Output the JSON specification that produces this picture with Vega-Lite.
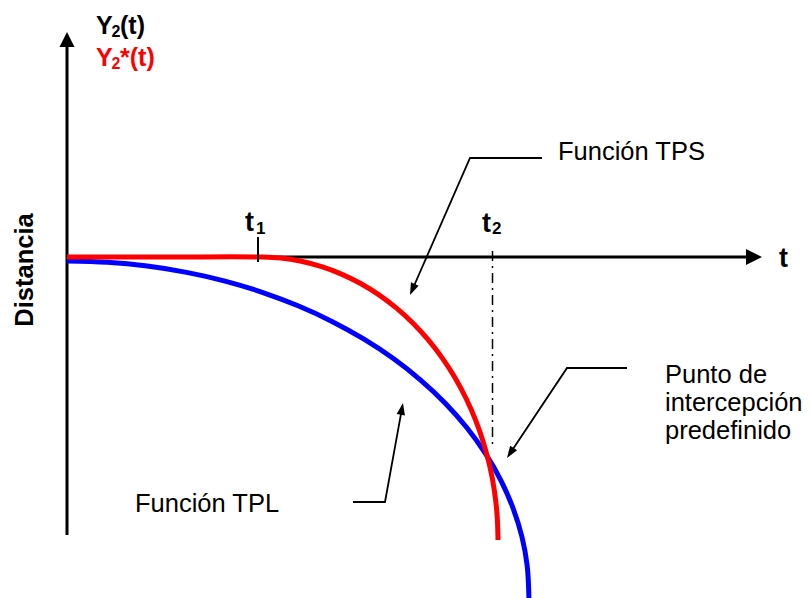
{
  "$schema": "https://vega.github.io/schema/vega-lite/v6.json",
  "width": 811,
  "height": 598,
  "autosize": {"type": "none"},
  "padding": 0,
  "background": "white",
  "config": {"view": {"stroke": null}},
  "datasets": {
    "axes": [
      {"axis": "Distancia", "t": 0, "d": -27.8},
      {"axis": "Distancia", "t": 0, "d": 21.2},
      {"axis": "tiempo", "t": 0, "d": 0},
      {"axis": "tiempo", "t": 68.0, "d": 0}
    ],
    "arrowheads": [
      {"name": "Distancia", "t": 0, "d": 21.75},
      {"name": "tiempo", "t": 68.7, "d": 0},
      {"name": "Función TPS", "t": 34.54, "d": -3.25},
      {"name": "Punto", "t": 44.33, "d": -19.6},
      {"name": "Función TPL", "t": 33.49, "d": -15.19}
    ],
    "leaders": [
      {"name": "Función TPS", "i": 0, "t": 47.5, "d": 9.9},
      {"name": "Función TPS", "i": 1, "t": 40.3, "d": 9.9},
      {"name": "Función TPS", "i": 2, "t": 34.54, "d": -3.25},
      {"name": "Punto", "i": 0, "t": 56.0, "d": -11.1},
      {"name": "Punto", "i": 1, "t": 50.0, "d": -11.1},
      {"name": "Punto", "i": 2, "t": 44.33, "d": -19.6},
      {"name": "Función TPL", "i": 0, "t": 28.6, "d": -24.5},
      {"name": "Función TPL", "i": 1, "t": 31.8, "d": -24.5},
      {"name": "Función TPL", "i": 2, "t": 33.49, "d": -15.19}
    ],
    "curves": [
      {"series": "Función TPL", "t": 0, "d": -0.4},
      {"series": "Función TPL", "t": 4.03, "d": -0.53},
      {"series": "Función TPL", "t": 8.02, "d": -0.91},
      {"series": "Función TPL", "t": 11.96, "d": -1.54},
      {"series": "Función TPL", "t": 15.8, "d": -2.41},
      {"series": "Función TPL", "t": 19.52, "d": -3.53},
      {"series": "Función TPL", "t": 23.1, "d": -4.88},
      {"series": "Función TPL", "t": 26.5, "d": -6.44},
      {"series": "Función TPL", "t": 29.7, "d": -8.22},
      {"series": "Función TPL", "t": 32.67, "d": -10.18},
      {"series": "Función TPL", "t": 35.39, "d": -12.33},
      {"series": "Función TPL", "t": 37.85, "d": -14.64},
      {"series": "Función TPL", "t": 40.01, "d": -17.1},
      {"series": "Función TPL", "t": 41.87, "d": -19.69},
      {"series": "Función TPL", "t": 43.41, "d": -22.38},
      {"series": "Función TPL", "t": 44.62, "d": -25.16},
      {"series": "Función TPL", "t": 45.5, "d": -28.0},
      {"series": "Función TPL", "t": 46.02, "d": -30.89},
      {"series": "Función TPL", "t": 46.2, "d": -34.4},
      {"series": "Función TPS", "t": 0, "d": 0},
      {"series": "Función TPS", "t": 10, "d": 0},
      {"series": "Función TPS", "t": 19.3, "d": 0},
      {"series": "Función TPS", "t": 21.38, "d": -0.1},
      {"series": "Función TPS", "t": 23.43, "d": -0.43},
      {"series": "Función TPS", "t": 25.46, "d": -0.97},
      {"series": "Función TPS", "t": 27.44, "d": -1.71},
      {"series": "Función TPS", "t": 29.36, "d": -2.65},
      {"series": "Función TPS", "t": 31.2, "d": -3.79},
      {"series": "Función TPS", "t": 32.95, "d": -5.12},
      {"series": "Función TPS", "t": 34.6, "d": -6.62},
      {"series": "Función TPS", "t": 36.13, "d": -8.29},
      {"series": "Función TPS", "t": 37.53, "d": -10.11},
      {"series": "Función TPS", "t": 38.8, "d": -12.07},
      {"series": "Función TPS", "t": 39.91, "d": -14.15},
      {"series": "Función TPS", "t": 40.87, "d": -16.34},
      {"series": "Función TPS", "t": 41.66, "d": -18.62},
      {"series": "Función TPS", "t": 42.29, "d": -20.98},
      {"series": "Función TPS", "t": 42.74, "d": -23.39},
      {"series": "Función TPS", "t": 43.01, "d": -25.83},
      {"series": "Función TPS", "t": 43.1, "d": -28.3}
    ],
    "t1tick": [{"t": 19.1, "d": 2.0, "d2": -0.5}],
    "t2guide": [{"t": 42.55, "d": 0.6, "d2": -18.8}],
    "notes": [
      {"label": "Función TPS", "t": 49.1, "d": 9.7},
      {"label": "Función TPL", "t": 6.8, "d": -25.5},
      {"label": "Punto de", "t": 59.8, "d": -12.6},
      {"label": "intercepción", "t": 59.8, "d": -15.4},
      {"label": "predefinido", "t": 59.8, "d": -18.2}
    ],
    "ylabelBlack": [
      {"label": "Y", "t": 2.9, "d": 22.3},
      {"label": "(t)", "t": 5.3, "d": 22.3}
    ],
    "ylabelBlackSub": [{"label": "2", "t": 4.45, "d": 22.0}],
    "ylabelRed": [
      {"label": "Y", "t": 2.9, "d": 19.1},
      {"label": "*(t)", "t": 5.3, "d": 19.1}
    ],
    "ylabelRedSub": [{"label": "2", "t": 4.45, "d": 18.8}],
    "timeLabels": [
      {"label": "t", "t": 71.2, "d": -1.0},
      {"label": "t", "t": 17.8, "d": 2.6},
      {"label": "t", "t": 41.5, "d": 2.5}
    ],
    "timeSubs": [
      {"label": "1", "t": 18.9, "d": 2.3},
      {"label": "2", "t": 42.5, "d": 2.3}
    ],
    "axisTitle": [{"label": "Distancia", "t": -3.4, "d": -1.3}]
  },
  "encoding": {
    "x": {"field": "t", "type": "quantitative", "scale": {"domain": [-6.7, 74.4], "nice": false, "zero": false}, "axis": null},
    "y": {"field": "d", "type": "quantitative", "scale": {"domain": [-34.1, 25.7], "nice": false, "zero": false}, "axis": null}
  },
  "layer": [
    {
      "data": {"name": "axes"},
      "mark": {"type": "line", "color": "black", "strokeWidth": 3},
      "encoding": {"detail": {"field": "axis"}}
    },
    {
      "data": {"name": "t2guide"},
      "mark": {"type": "rule", "color": "black", "strokeWidth": 1.5, "strokeDash": [10, 5, 2, 5]},
      "encoding": {"y2": {"field": "d2"}}
    },
    {
      "data": {"name": "curves"},
      "transform": [{"filter": "datum.series === 'Función TPL'"}],
      "mark": {"type": "line", "color": "#0000ff", "strokeWidth": 5, "interpolate": "catmull-rom"}
    },
    {
      "data": {"name": "curves"},
      "transform": [{"filter": "datum.series === 'Función TPS'"}],
      "mark": {"type": "line", "color": "#ff0000", "strokeWidth": 5, "interpolate": "catmull-rom"}
    },
    {
      "data": {"name": "t1tick"},
      "mark": {"type": "rule", "color": "black", "strokeWidth": 2},
      "encoding": {"y2": {"field": "d2"}}
    },
    {
      "data": {"name": "leaders"},
      "mark": {"type": "line", "color": "black", "strokeWidth": 1.8},
      "encoding": {"detail": {"field": "name"}, "order": {"field": "i", "type": "quantitative"}}
    },
    {
      "data": {"name": "arrowheads"},
      "transform": [{"filter": "datum.name === 'Distancia'"}],
      "mark": {"type": "point", "shape": "M0,-1L1,1L-1,1Z", "size": 225, "filled": true, "color": "black", "opacity": 1, "strokeWidth": 0}
    },
    {
      "data": {"name": "arrowheads"},
      "transform": [{"filter": "datum.name === 'tiempo'"}],
      "mark": {"type": "point", "shape": "M1,0L-1,-1L-1,1Z", "size": 256, "filled": true, "color": "black", "opacity": 1, "strokeWidth": 0}
    },
    {
      "data": {"name": "arrowheads"},
      "transform": [{"filter": "datum.name === 'Función TPS'"}],
      "mark": {"type": "point", "shape": "M0,-1L0.7,1L-0.7,1Z", "size": 144, "angle": 203.6, "filled": true, "color": "black", "opacity": 1, "strokeWidth": 0}
    },
    {
      "data": {"name": "arrowheads"},
      "transform": [{"filter": "datum.name === 'Punto'"}],
      "mark": {"type": "point", "shape": "M0,-1L0.7,1L-0.7,1Z", "size": 144, "angle": 213.7, "filled": true, "color": "black", "opacity": 1, "strokeWidth": 0}
    },
    {
      "data": {"name": "arrowheads"},
      "transform": [{"filter": "datum.name === 'Función TPL'"}],
      "mark": {"type": "point", "shape": "M0,-1L0.7,1L-0.7,1Z", "size": 144, "angle": 10.3, "filled": true, "color": "black", "opacity": 1, "strokeWidth": 0}
    },
    {
      "data": {"name": "notes"},
      "mark": {"type": "text", "align": "left", "baseline": "alphabetic", "font": "Liberation Sans", "fontSize": 25.5, "color": "black"},
      "encoding": {"text": {"field": "label"}}
    },
    {
      "data": {"name": "ylabelBlack"},
      "mark": {"type": "text", "align": "left", "baseline": "alphabetic", "font": "Liberation Sans", "fontWeight": "bold", "fontSize": 25, "color": "black"},
      "encoding": {"text": {"field": "label"}}
    },
    {
      "data": {"name": "ylabelBlackSub"},
      "mark": {"type": "text", "align": "left", "baseline": "alphabetic", "font": "Liberation Sans", "fontWeight": "bold", "fontSize": 16, "color": "black"},
      "encoding": {"text": {"field": "label"}}
    },
    {
      "data": {"name": "ylabelRed"},
      "mark": {"type": "text", "align": "left", "baseline": "alphabetic", "font": "Liberation Sans", "fontWeight": "bold", "fontSize": 25, "color": "#ff0000"},
      "encoding": {"text": {"field": "label"}}
    },
    {
      "data": {"name": "ylabelRedSub"},
      "mark": {"type": "text", "align": "left", "baseline": "alphabetic", "font": "Liberation Sans", "fontWeight": "bold", "fontSize": 16, "color": "#ff0000"},
      "encoding": {"text": {"field": "label"}}
    },
    {
      "data": {"name": "timeLabels"},
      "mark": {"type": "text", "align": "left", "baseline": "alphabetic", "font": "Liberation Sans", "fontWeight": "bold", "fontSize": 27, "color": "black"},
      "encoding": {"text": {"field": "label"}}
    },
    {
      "data": {"name": "timeSubs"},
      "mark": {"type": "text", "align": "left", "baseline": "alphabetic", "font": "Liberation Sans", "fontWeight": "bold", "fontSize": 17, "color": "black"},
      "encoding": {"text": {"field": "label"}}
    },
    {
      "data": {"name": "axisTitle"},
      "mark": {"type": "text", "align": "center", "baseline": "alphabetic", "angle": 270, "font": "Liberation Sans", "fontWeight": "bold", "fontSize": 25.5, "color": "black"},
      "encoding": {"text": {"field": "label"}}
    }
  ]
}
